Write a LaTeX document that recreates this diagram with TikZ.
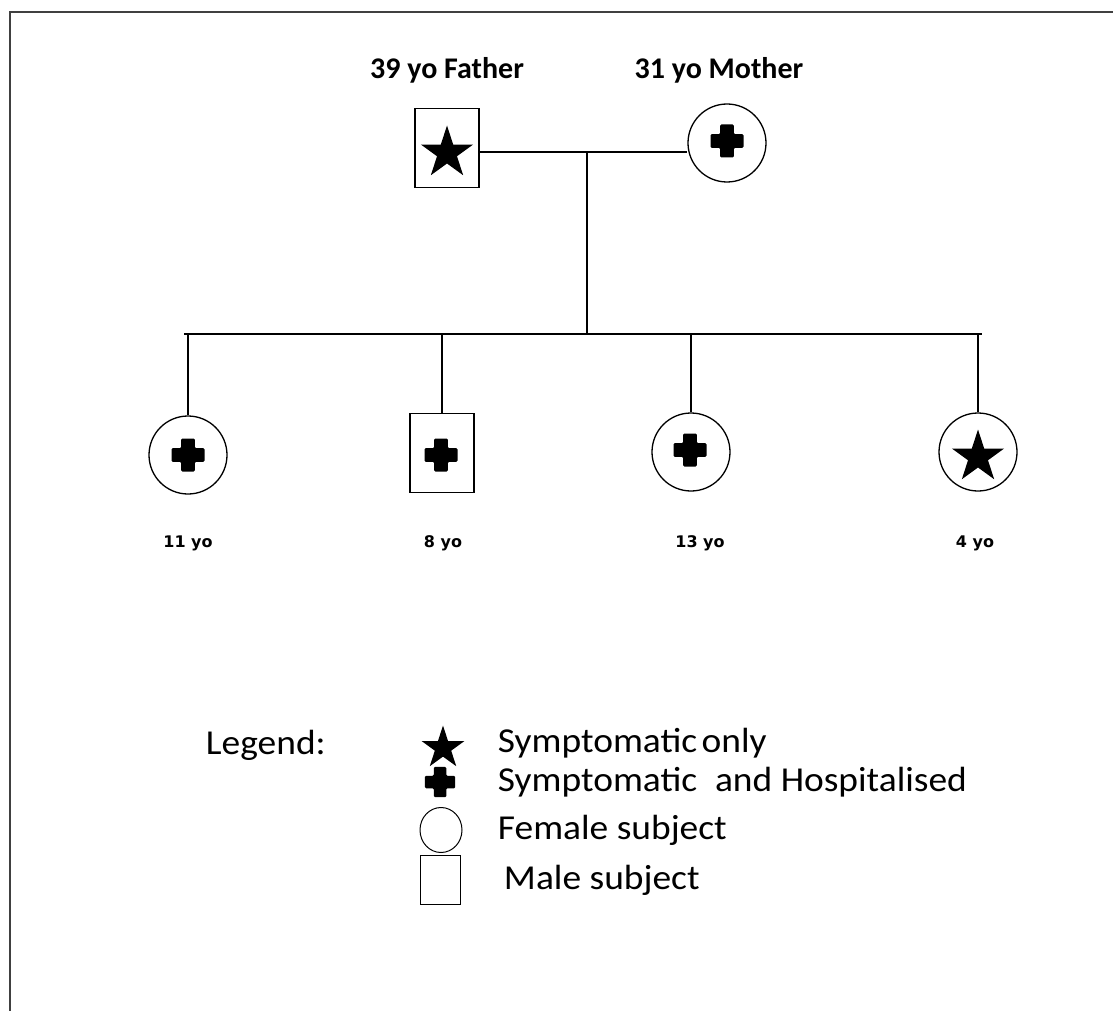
\documentclass[tikz,border=0pt]{standalone}
\usepackage{fontspec}
\setmainfont{Carlito}
\newfontfamily\agefont{DejaVu Sans}
\usetikzlibrary{shapes.geometric}
\newcommand{\legendline}[1]{\scalebox{1.07}[1]{#1}}
\begin{document}
\begin{tikzpicture}[x=1pt,y=-1pt,
  line width=1.3pt,
  male/.style={draw, rectangle, minimum width=64pt, minimum height=79pt, inner sep=0pt},
  female/.style={draw, circle, minimum size=78pt, inner sep=0pt},
  link/.style={draw, line width=1.3pt},
  parentlabel/.style={font=\fontsize{30}{36}\selectfont\bfseries},
  agelabel/.style={font=\agefont\fontsize{16}{19}\selectfont\bfseries},
  legendtext/.style={anchor=west, font=\fontsize{35}{42}\selectfont},
  starmark/.style={star, star points=5, star point ratio=2.618, fill=black,
    draw=none, inner sep=0pt, minimum size=#1},
  starmark/.default=55pt,
  pics/plusmark/.style={code={
    \fill[black, rounded corners=1.2pt, scale=#1]
      (-16.5,-6.8) -- (-6.8,-6.8) -- (-6.8,-16.5) -- (6.8,-16.5) -- (6.8,-6.8)
      -- (16.5,-6.8) -- (16.5,6.8) -- (6.8,6.8) -- (6.8,16.5) -- (-6.8,16.5)
      -- (-6.8,6.8) -- (-16.5,6.8) -- cycle;}},
  pics/plusmark/.default=1,
]
\useasboundingbox (0,0) rectangle (1113,1011);
% frame, open on the right and bottom
\draw[line width=2pt, black!75] (10,1011) -- (10,12) -- (1113,12);

% parents
\node[parentlabel] (flab) at (447,70) {39 yo Father};
\node[parentlabel] (mlab) at (719,70) {31 yo Mother};
\node[male] (father) at (447,148) {};
\node[female] (mother) at (727,143) {};
\node[starmark] (fstar) at (447,153) {};
\pic at (727,141) {plusmark};

% children
\node[female] (c1) at (188,455) {};
\node[male]   (c2) at (442,453) {};
\node[female] (c3) at (691,452) {};
\node[female] (c4) at (978,452) {};
\pic at (188,455) {plusmark};
\pic at (441,455) {plusmark};
\pic at (690,450) {plusmark};
\node[starmark] (c4star) at (978,457) {};

\node[agelabel] (a1) at (188,543) {11 yo};
\node[agelabel] (a2) at (443,543) {8 yo};
\node[agelabel] (a3) at (700,543) {13 yo};
\node[agelabel] (a4) at (975,543) {4 yo};

% connectors
\coordinate (mid) at (587,152);
\coordinate (sibL) at (184,334);
\coordinate (sibR) at (982,334);
\draw[link] (father.east |- mid) -- (mother.west |- mid);
\draw[link] (mid) -- (mid |- sibL);
\draw[link] (sibL) -- (sibR);
\draw[link] (c1 |- sibL) -- (c1.north);
\draw[link] (c2 |- sibL) -- (c2.north);
\draw[link] (c3 |- sibL) -- (c3.north);
\draw[link] (c4 |- sibL) -- (c4.north);

% legend
\node[legendtext] (leg) at (202,745) {\legendline{Legend:}};
\node[starmark=45pt] (lstar) at (443,748) {};
\node[legendtext] (t1) at (494,743) {\legendline{Symptomatic\hspace{0.12em}only}};
\pic at (440,782) {plusmark=0.92};
\node[legendtext] (t2) at (494,782) {\legendline{Symptomatic\hspace{0.25em} and Hospitalised}};
\node[legendtext] (t3) at (494,830) {\legendline{Female subject}};
\node[legendtext] (t4) at (500,880) {\legendline{Male subject}};
\node[draw, ellipse, minimum width=42pt, minimum height=45pt, inner sep=0pt, line width=1pt] (lf) at (441,830) {};
\node[draw, rectangle, minimum width=40pt, minimum height=49pt, inner sep=0pt, line width=1pt] (lm) at (440,880) {};
\end{tikzpicture}
\end{document}
